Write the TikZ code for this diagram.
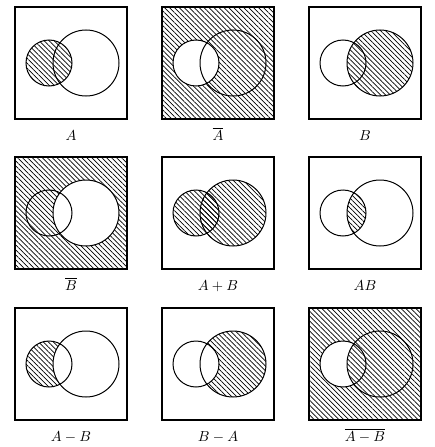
\documentclass[tikz,border=0pt]{standalone}
\usetikzlibrary{patterns.meta}
\tikzset{
  hatch/.style={pattern={Lines[angle=-45,distance=3.5pt,line width=0.7pt]}},
  frame/.style={draw, line width=1.2pt},
  ring/.style={draw, line width=1pt},
  lbl/.style={anchor=base, inner sep=0pt, scale=1.45},
}
\newcommand\Ac{(34,-56) circle[radius=23]}
\newcommand\Bc{(71,-56) circle[radius=33]}
\newcommand\Fr{(0,0) rectangle (112,-112)}
\newcommand\outl{\draw[frame] \Fr; \draw[ring] \Ac; \draw[ring] \Bc;}
\begin{document}
\begin{tikzpicture}[x=1pt,y=1pt]
\useasboundingbox (0,0) rectangle (434,-447);
% row 1
\begin{scope}[shift={(15,-7)}]
  \fill[hatch] \Ac;
  \outl
  \node[lbl] (l1) at (56,-133) {$A$};
\end{scope}
\begin{scope}[shift={(162,-7)}]
  \fill[hatch, even odd rule] \Fr \Ac;
  \outl
  \node[lbl] (l2) at (56,-133) {$\overline{A}$};
\end{scope}
\begin{scope}[shift={(309,-7)}]
  \fill[hatch] \Bc;
  \outl
  \node[lbl] (l3) at (56,-133) {$B$};
\end{scope}
% row 2
\begin{scope}[shift={(15,-157)}]
  \fill[hatch, even odd rule] \Fr \Bc;
  \outl
  \node[lbl] (l4) at (56,-133) {$\overline{B}$};
\end{scope}
\begin{scope}[shift={(162,-157)}]
  \fill[hatch] \Ac;
  \fill[hatch] \Bc;
  \outl
  \node[lbl] (l5) at (56,-133) {$A+B$};
\end{scope}
\begin{scope}[shift={(309,-157)}]
  \begin{scope}
    \clip \Ac;
    \fill[hatch] \Bc;
  \end{scope}
  \outl
  \node[lbl] (l6) at (56,-133) {$AB$};
\end{scope}
% row 3
\begin{scope}[shift={(15,-308)}]
  \begin{scope}
    \clip \Ac;
    \fill[hatch, even odd rule] \Ac \Bc;
  \end{scope}
  \outl
  \node[lbl] (l7) at (56,-133) {$A-B$};
\end{scope}
\begin{scope}[shift={(162,-308)}]
  \begin{scope}
    \clip \Bc;
    \fill[hatch, even odd rule] \Ac \Bc;
  \end{scope}
  \outl
  \node[lbl] (l8) at (56,-133) {$B-A$};
\end{scope}
\begin{scope}[shift={(309,-308)}]
  \fill[hatch, even odd rule] \Fr \Ac;
  \begin{scope}
    \clip \Ac;
    \fill[hatch] \Bc;
  \end{scope}
  \outl
  \node[lbl] (l9) at (56,-133) {$\overline{A-B}$};
\end{scope}
\end{tikzpicture}
\end{document}
